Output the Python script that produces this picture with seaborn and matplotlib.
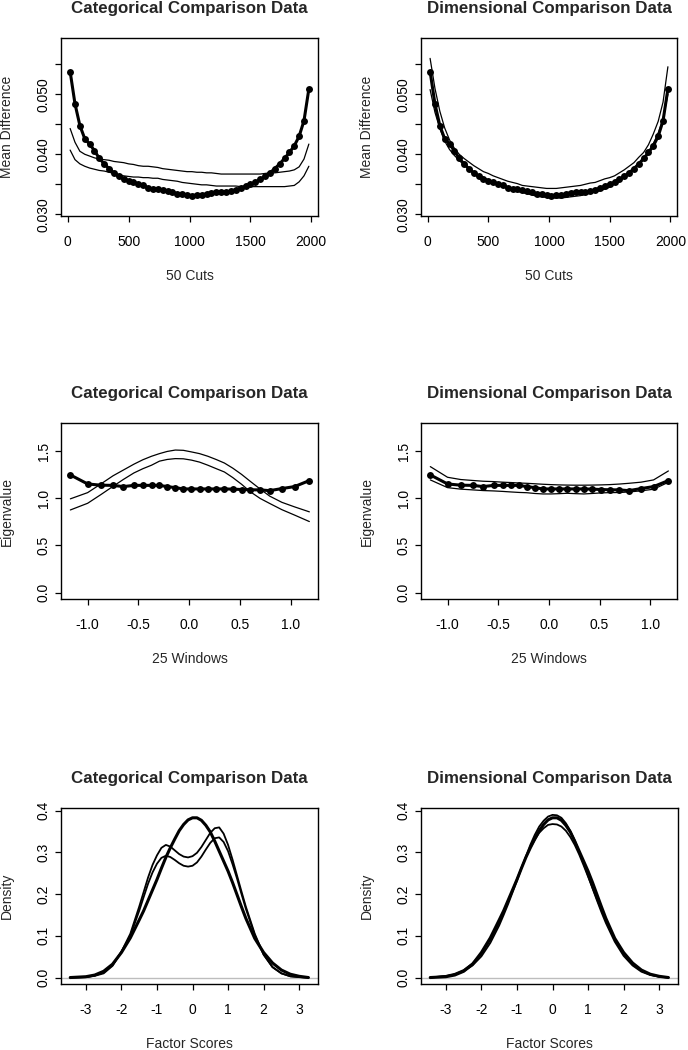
import numpy as np
import matplotlib
matplotlib.use("Agg")
import matplotlib.pyplot as plt
import seaborn as sns

sns.set_style("white")
plt.rcParams["font.family"] = ["Liberation Sans", "DejaVu Sans"]
plt.rcParams["axes.unicode_minus"] = False

# ---- mean difference, 50 cuts ----
cut_pos = np.arange(20, 2000, 40)
md_observed = [0.0538, 0.0484, 0.0448, 0.0426, 0.0417, 0.0406, 0.0393, 0.0384, 0.0376, 0.0369,
               0.0363, 0.0359, 0.0356, 0.0353, 0.0351, 0.0348, 0.0344, 0.0342, 0.0342, 0.0340,
               0.0338, 0.0337, 0.0334, 0.0333, 0.0332, 0.0331, 0.0332, 0.0332, 0.0334, 0.0336,
               0.0337, 0.0337, 0.0337, 0.0338, 0.0341, 0.0343, 0.0347, 0.0350, 0.0353, 0.0358,
               0.0363, 0.0369, 0.0376, 0.0384, 0.0393, 0.0403, 0.0414, 0.0430, 0.0456, 0.0509]
md_cat_upper = [0.0443, 0.0420, 0.0405, 0.0400, 0.0397, 0.0394, 0.0392, 0.0391, 0.0390, 0.0388,
                0.0387, 0.0386, 0.0384, 0.0383, 0.0381, 0.0380, 0.0380, 0.0379, 0.0378, 0.0376,
                0.0375, 0.0374, 0.0373, 0.0372, 0.0371, 0.0371, 0.0370, 0.0370, 0.0369, 0.0369,
                0.0368, 0.0367, 0.0367, 0.0367, 0.0367, 0.0367, 0.0367, 0.0367, 0.0367, 0.0367,
                0.0368, 0.0369, 0.0369, 0.0370, 0.0371, 0.0372, 0.0374, 0.0379, 0.0392, 0.0417]
md_cat_lower = [0.0407, 0.0391, 0.0384, 0.0380, 0.0377, 0.0375, 0.0373, 0.0372, 0.0370, 0.0368,
                0.0366, 0.0364, 0.0363, 0.0362, 0.0362, 0.0361, 0.0361, 0.0360, 0.0360, 0.0358,
                0.0357, 0.0356, 0.0355, 0.0353, 0.0352, 0.0351, 0.0350, 0.0349, 0.0349, 0.0348,
                0.0347, 0.0347, 0.0347, 0.0347, 0.0347, 0.0346, 0.0346, 0.0346, 0.0346, 0.0346,
                0.0346, 0.0346, 0.0346, 0.0346, 0.0346, 0.0347, 0.0348, 0.0354, 0.0364, 0.0380]
md_dim_upper = [0.0560, 0.0510, 0.0472, 0.0444, 0.0424, 0.0410, 0.0400, 0.0393, 0.0387, 0.0381,
                0.0376, 0.0371, 0.0368, 0.0364, 0.0361, 0.0358, 0.0355, 0.0353, 0.0351, 0.0348,
                0.0347, 0.0346, 0.0345, 0.0344, 0.0343, 0.0343, 0.0343, 0.0344, 0.0345, 0.0346,
                0.0347, 0.0348, 0.0350, 0.0352, 0.0353, 0.0356, 0.0359, 0.0361, 0.0364, 0.0369,
                0.0374, 0.0380, 0.0386, 0.0395, 0.0403, 0.0416, 0.0434, 0.0455, 0.0487, 0.0546]
md_dim_lower = [0.0508, 0.0470, 0.0443, 0.0422, 0.0408, 0.0398, 0.0390, 0.0382, 0.0376, 0.0370,
                0.0365, 0.0361, 0.0357, 0.0353, 0.0350, 0.0346, 0.0343, 0.0341, 0.0338, 0.0336,
                0.0334, 0.0332, 0.0330, 0.0329, 0.0328, 0.0327, 0.0327, 0.0327, 0.0328, 0.0329,
                0.0330, 0.0331, 0.0333, 0.0335, 0.0337, 0.0339, 0.0342, 0.0345, 0.0351, 0.0356,
                0.0362, 0.0369, 0.0375, 0.0383, 0.0391, 0.0403, 0.0418, 0.0435, 0.0459, 0.0500]

# ---- eigenvalues, 25 windows ----
win_pos = [-1.17, -1.00, -0.87, -0.75, -0.65, -0.545, -0.457, -0.372, -0.294, -0.218,
           -0.138, -0.059, 0.021, 0.100, 0.182, 0.265, 0.345, 0.428, 0.513, 0.600,
           0.695, 0.790, 0.910, 1.034, 1.18]
ev_observed = [1.249, 1.153, 1.140, 1.138, 1.125, 1.138, 1.138, 1.138, 1.138, 1.125,
               1.114, 1.100, 1.100, 1.100, 1.100, 1.100, 1.100, 1.098, 1.094, 1.091,
               1.090, 1.082, 1.104, 1.125, 1.189]
ev_cat_upper = [0.995, 1.061, 1.153, 1.240, 1.300, 1.363, 1.410, 1.447, 1.475, 1.498,
                1.513, 1.510, 1.493, 1.475, 1.447, 1.412, 1.375, 1.320, 1.255, 1.180,
                1.100, 1.024, 0.958, 0.910, 0.857]
ev_cat_lower = [0.877, 0.948, 1.040, 1.128, 1.200, 1.270, 1.315, 1.352, 1.395, 1.413,
                1.422, 1.420, 1.406, 1.385, 1.352, 1.315, 1.280, 1.220, 1.150, 1.070,
                1.000, 0.946, 0.880, 0.823, 0.754]
ev_dim_upper = [1.337, 1.224, 1.200, 1.190, 1.182, 1.178, 1.172, 1.168, 1.163, 1.160,
                1.155, 1.150, 1.146, 1.143, 1.141, 1.140, 1.140, 1.141, 1.143, 1.146,
                1.152, 1.160, 1.172, 1.196, 1.291]
ev_dim_lower = [1.196, 1.114, 1.098, 1.090, 1.083, 1.079, 1.074, 1.068, 1.063, 1.060,
                1.052, 1.047, 1.047, 1.050, 1.054, 1.050, 1.047, 1.052, 1.058, 1.061,
                1.062, 1.068, 1.080, 1.097, 1.171]

# ---- factor score densities ----
fs_grid = [-3.44, -3.0, -2.75, -2.5, -2.25, -2.0, -1.75,
           -1.5, -1.375, -1.25, -1.125, -1.0, -0.875, -0.75, -0.625, -0.5, -0.375, -0.25, -0.125,
           0.0, 0.125, 0.25, 0.375, 0.5, 0.625, 0.75, 0.875, 1.0, 1.125, 1.25, 1.375, 1.5,
           1.75, 2.0, 2.25, 2.5, 2.75, 3.0, 3.26]
dens_observed = [0.000, 0.002, 0.006, 0.015, 0.032, 0.060, 0.095,
                 0.138, 0.160, 0.185, 0.210, 0.235, 0.262, 0.288, 0.311, 0.332, 0.352, 0.367, 0.378,
                 0.383, 0.383, 0.377, 0.365, 0.349, 0.327, 0.303, 0.279, 0.255, 0.228, 0.199, 0.170, 0.142,
                 0.094, 0.060, 0.035, 0.018, 0.008, 0.003, 0.000]
dens_cat_a = [0.000, 0.001, 0.004, 0.010, 0.028, 0.062, 0.105,
              0.170, 0.205, 0.240, 0.270, 0.293, 0.311, 0.318, 0.314, 0.305, 0.296, 0.290, 0.288,
              0.291, 0.299, 0.313, 0.330, 0.347, 0.358, 0.360, 0.345, 0.318, 0.283, 0.245, 0.207, 0.170,
              0.105, 0.055, 0.025, 0.010, 0.003, 0.001, 0.000]
dens_cat_b = [0.000, 0.001, 0.005, 0.012, 0.030, 0.062, 0.100,
              0.160, 0.193, 0.225, 0.252, 0.273, 0.287, 0.292, 0.289, 0.282, 0.274, 0.268, 0.266,
              0.268, 0.276, 0.290, 0.307, 0.323, 0.334, 0.336, 0.325, 0.303, 0.272, 0.238, 0.201, 0.165,
              0.102, 0.055, 0.025, 0.010, 0.003, 0.001, 0.000]
dens_dim_a = [0.000, 0.003, 0.007, 0.015, 0.029, 0.051, 0.083,
              0.125, 0.150, 0.176, 0.204, 0.232, 0.262, 0.290, 0.318, 0.342, 0.362, 0.376, 0.386,
              0.390, 0.389, 0.383, 0.370, 0.352, 0.329, 0.302, 0.274, 0.244, 0.214, 0.185, 0.157, 0.131,
              0.086, 0.052, 0.029, 0.014, 0.006, 0.002, 0.000]
dens_dim_b = [0.000, 0.004, 0.009, 0.018, 0.034, 0.057, 0.090,
              0.132, 0.157, 0.182, 0.209, 0.236, 0.263, 0.288, 0.311, 0.330, 0.347, 0.358, 0.366,
              0.368, 0.367, 0.362, 0.352, 0.337, 0.318, 0.295, 0.269, 0.242, 0.215, 0.188, 0.162, 0.137,
              0.092, 0.057, 0.032, 0.016, 0.007, 0.002, 0.000]

W, H = 688, 1050
fig = plt.figure(figsize=(W / 100, H / 100), dpi=100)


def add_panel(x0, y0, x1, y1):
    ax = fig.add_axes([x0 / W, 1 - y1 / H, (x1 - x0) / W, (y1 - y0) / H])
    ax.set_facecolor("white")
    for s in ax.spines.values():
        s.set_visible(True)
        s.set_color("black")
        s.set_linewidth(1.0)
    ax.tick_params(bottom=True, left=True, direction="out", length=4.5, width=0.9,
                   colors="black", labelsize=10)
    ax.tick_params(axis="x", pad=9)
    ax.tick_params(axis="y", pad=3, labelrotation=90)
    return ax, (x1 - x0), (y1 - y0)


def finish(ax, w, h, title, xlabel, ylabel):
    ax.set_title(title, fontsize=12.2, fontweight="bold", pad=18)
    ax.set_xlabel(xlabel, fontsize=10, va="center")
    ax.set_ylabel(ylabel, fontsize=10, va="center")
    ax.xaxis.set_label_coords(0.5, -60 / h)
    ax.yaxis.set_label_coords(-54 / w, 0.5)
    for lbl in ax.get_yticklabels():
        lbl.set_va("center")


def thin(ax, x, y, lw=0.9):
    sns.lineplot(x=x, y=y, ax=ax, color="black", linewidth=lw, sort=False)


def observed(ax, x, y, dots=True):
    if dots:
        sns.lineplot(x=x, y=y, ax=ax, color="black", linewidth=2.2, sort=False,
                     marker="o", markersize=5, markeredgewidth=0)
    else:
        sns.lineplot(x=x, y=y, ax=ax, color="black", linewidth=2.2, sort=False)


layout = [(61, 38, 318, 216), (421, 38, 677, 216),
          (61, 423, 318, 599), (421, 423, 677, 599),
          (61, 808, 318, 984), (421, 808, 678, 984)]

# row 1: mean difference
for i, (up, lo, title) in enumerate([(md_cat_upper, md_cat_lower, "Categorical Comparison Data"),
                                     (md_dim_upper, md_dim_lower, "Dimensional Comparison Data")]):
    ax, w, h = add_panel(*layout[i])
    thin(ax, cut_pos, up)
    thin(ax, cut_pos, lo)
    observed(ax, cut_pos, md_observed)
    ax.set_xlim(-55, 2055)
    ax.set_ylim(0.0297, 0.0594)
    ax.set_xticks([0, 500, 1000, 1500, 2000])
    ax.set_xticklabels(["0", "500", "1000", "1500", "2000"])
    ax.set_yticks([0.030, 0.035, 0.040, 0.045, 0.050, 0.055])
    ax.set_yticklabels(["0.030", "", "0.040", "", "0.050", ""])
    finish(ax, w, h, title, "50 Cuts", "Mean Difference")

# row 2: eigenvalues
for i, (up, lo, title) in enumerate([(ev_cat_upper, ev_cat_lower, "Categorical Comparison Data"),
                                     (ev_dim_upper, ev_dim_lower, "Dimensional Comparison Data")]):
    ax, w, h = add_panel(*layout[2 + i])
    thin(ax, win_pos, up)
    thin(ax, win_pos, lo)
    observed(ax, win_pos, ev_observed)
    ax.set_xlim(-1.262, 1.265)
    ax.set_ylim(-0.068, 1.80)
    ax.set_xticks([-1.0, -0.5, 0.0, 0.5, 1.0])
    ax.set_xticklabels(["-1.0", "-0.5", "0.0", "0.5", "1.0"])
    ax.set_yticks([0.0, 0.5, 1.0, 1.5])
    ax.set_yticklabels(["0.0", "0.5", "1.0", "1.5"])
    finish(ax, w, h, title, "25 Windows", "Eigenvalue")

# row 3: densities
for i, (a, b, title) in enumerate([(dens_cat_a, dens_cat_b, "Categorical Comparison Data"),
                                   (dens_dim_a, dens_dim_b, "Dimensional Comparison Data")]):
    ax, w, h = add_panel(*layout[4 + i])
    ax.axhline(0, color="#bdbdbd", linewidth=1.0, zorder=1)
    thin(ax, fs_grid, a, lw=1.3)
    thin(ax, fs_grid, b, lw=1.3)
    observed(ax, fs_grid, dens_observed, dots=False)
    ax.set_xlim(-3.70, 3.53)
    ax.set_ylim(-0.0155, 0.4065)
    ax.set_xticks([-3, -2, -1, 0, 1, 2, 3])
    ax.set_xticklabels(["-3", "-2", "-1", "0", "1", "2", "3"])
    ax.set_yticks([0.0, 0.1, 0.2, 0.3, 0.4])
    ax.set_yticklabels(["0.0", "0.1", "0.2", "0.3", "0.4"])
    finish(ax, w, h, title, "Factor Scores", "Density")

fig.savefig("out.png", dpi=100, facecolor="white")
